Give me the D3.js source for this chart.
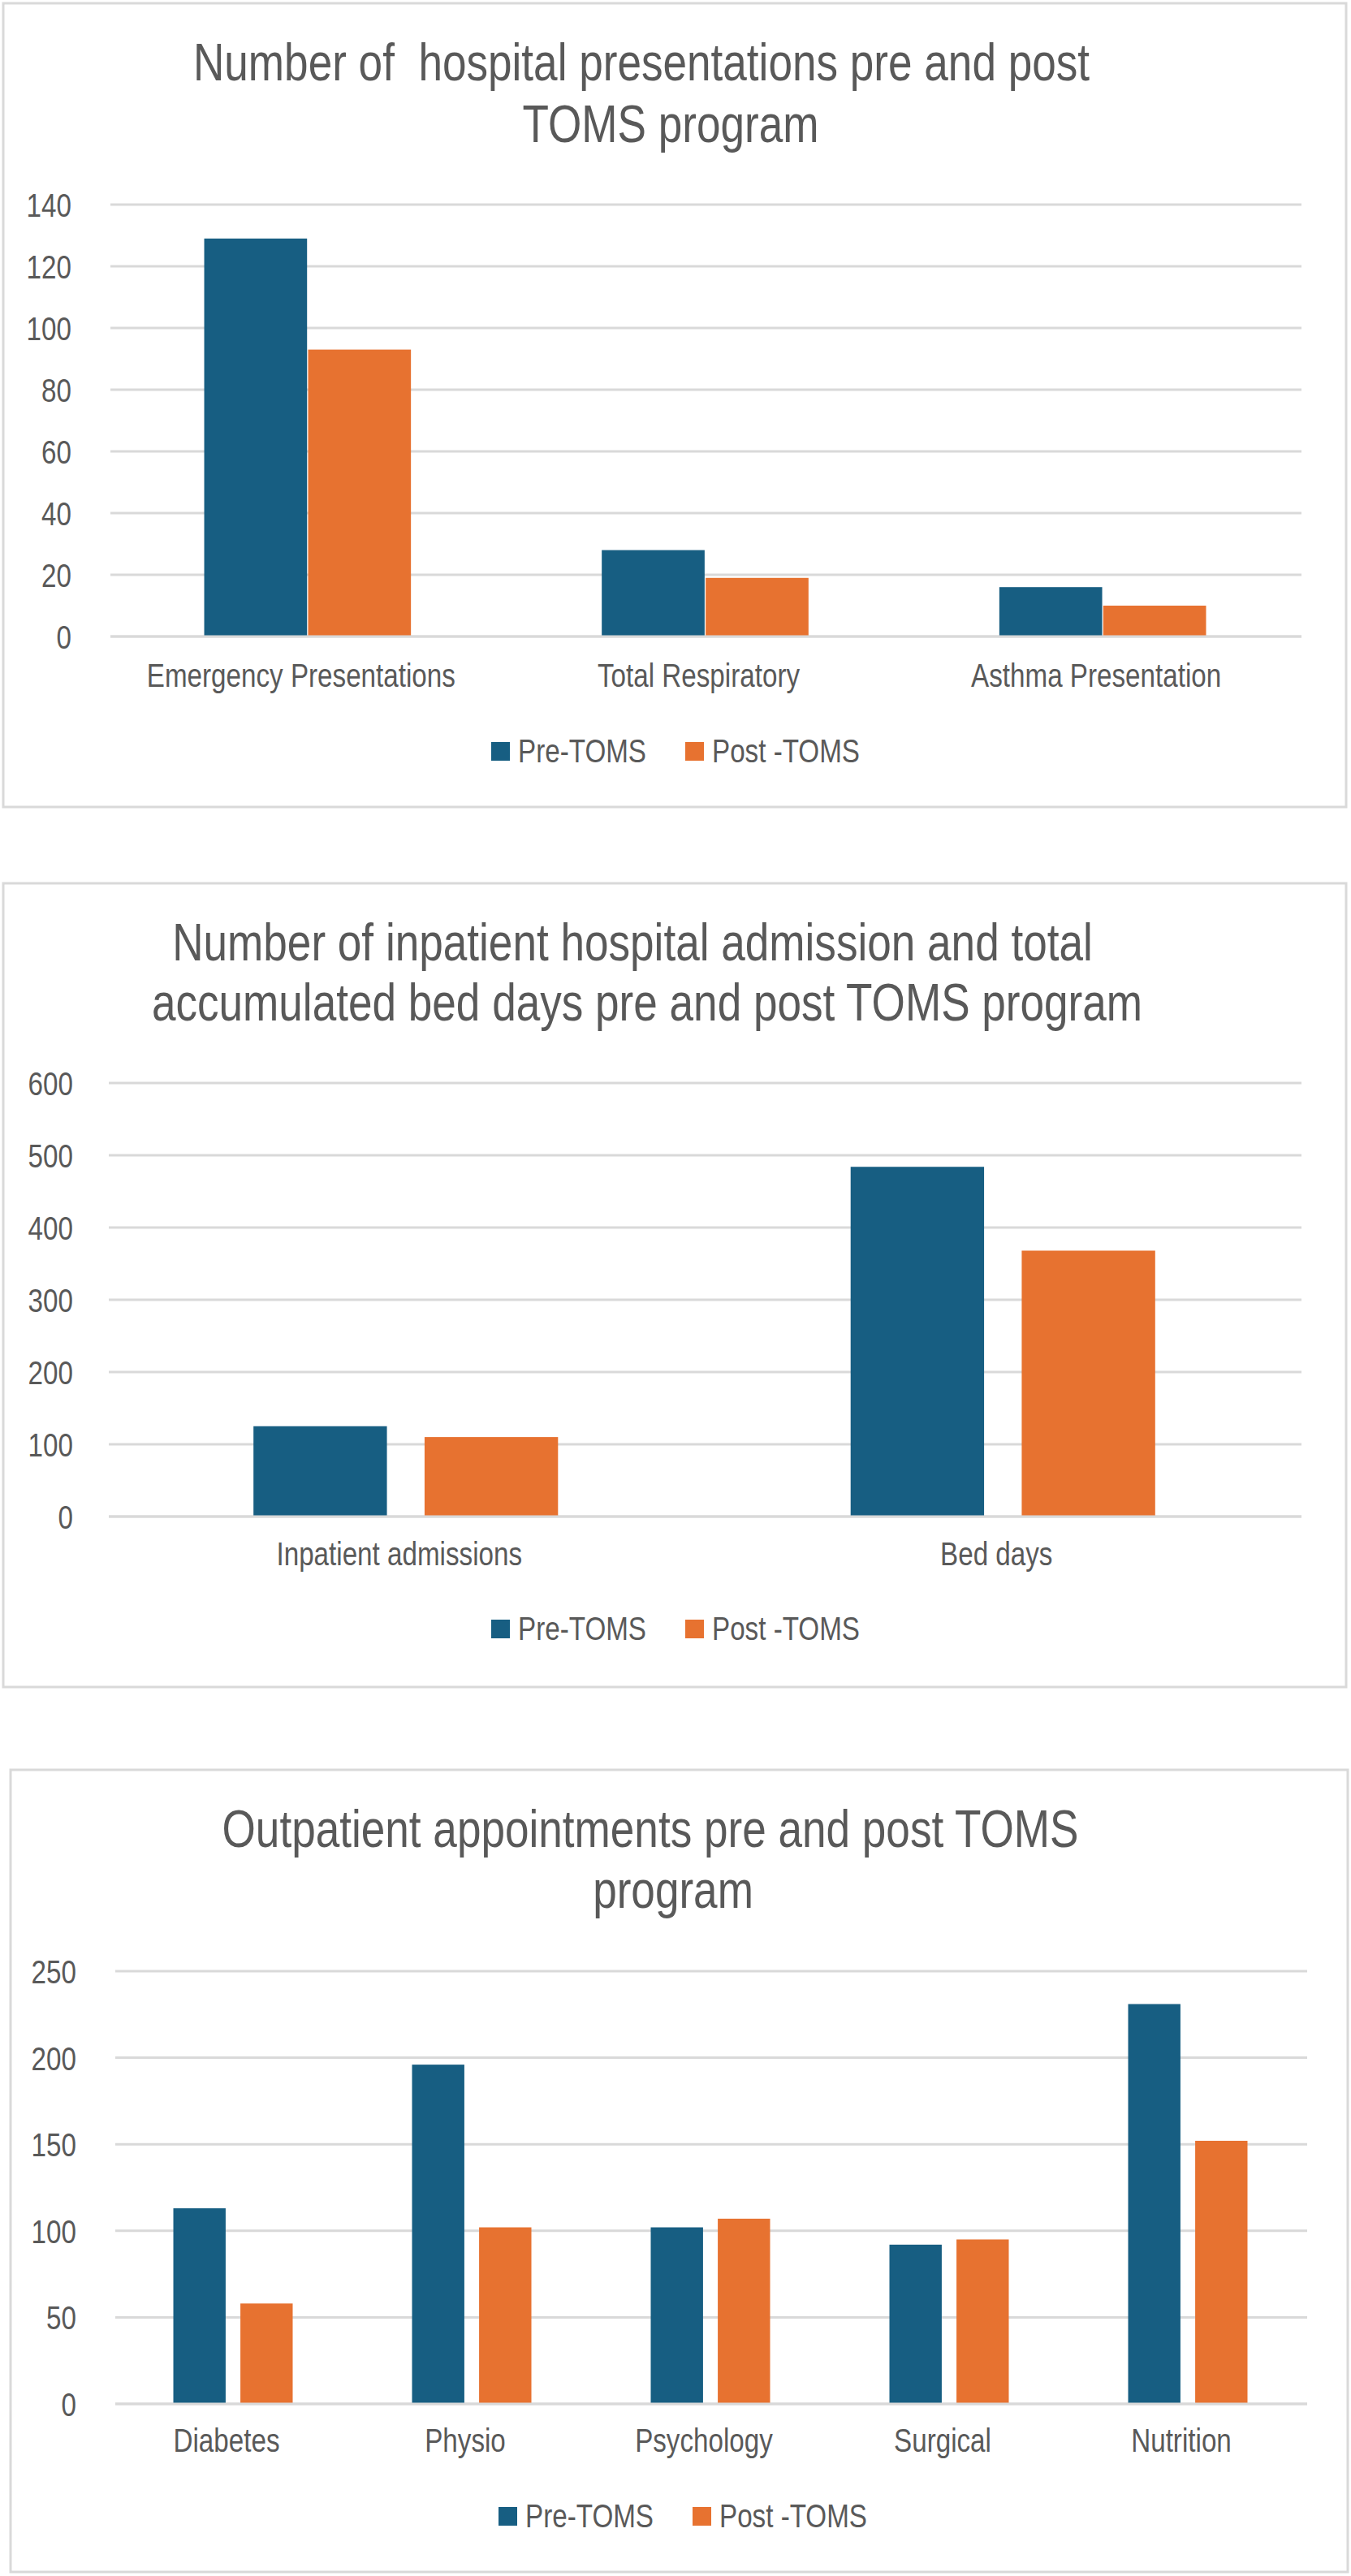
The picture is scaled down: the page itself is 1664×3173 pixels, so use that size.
<!DOCTYPE html>
<html>
<head>
<meta charset="utf-8">
<script src="https://cdn.jsdelivr.net/npm/d3@7"></script>
<style>
    body { margin: 0; background: #fff; }
    svg { display: block; }
    text { font-family: "Liberation Sans", Arial, sans-serif; fill: #595959; white-space: pre; }
</style>
</head>
<body>
<svg id="chart"></svg>
<script>
const seriesNames = ["Pre-TOMS", "Post -TOMS"];
const seriesColors = ["#175E82", "#E77230"];

// chart 1 - hospital presentations
const presentationCategories = ["Emergency Presentations", "Total Respiratory", "Asthma Presentation"];
const presentationPre = [129, 28, 16];
const presentationPost = [93, 19, 10];
const presentationTicks = [0, 20, 40, 60, 80, 100, 120, 140];
const presentationTitle = ["Number of  hospital presentations pre and post", "TOMS program"];

// chart 2 - inpatient admissions / bed days
const admissionCategories = ["Inpatient admissions", "Bed days"];
const admissionPre = [125, 484];
const admissionPost = [110, 368];
const admissionTicks = [0, 100, 200, 300, 400, 500, 600];
const admissionTitle = ["Number of inpatient hospital admission and total", "accumulated bed days pre and post TOMS program"];

// chart 3 - outpatient appointments
const outpatientCategories = ["Diabetes", "Physio", "Psychology", "Surgical", "Nutrition"];
const outpatientPre = [113, 196, 102, 92, 231];
const outpatientPost = [58, 102, 107, 95, 152];
const outpatientTicks = [0, 50, 100, 150, 200, 250];
const outpatientTitle = ["Outpatient appointments pre and post TOMS", "program"];

const width = 1664, height = 3173;
const SQUEEZE = 0.83;

const svg = d3.select("#chart")
    .attr("width", width)
    .attr("height", height);

svg.append("rect").attr("width", width).attr("height", height).attr("fill", "#fff");

const panels = [
    {
        categories: presentationCategories, pre: presentationPre, post: presentationPost,
        ticks: presentationTicks, title: presentationTitle,
        box: [4, 4, 1654, 990],
        titleX: [790, 826], titleY: [99, 175],
        x0: 134, x1: 1603, yTop: 252, yBottom: 784,
        groupRatio: 0.52, innerPad: 0.01,
        tickRight: 88, catY: 846, legendY: 926, legendX: 605
    },
    {
        categories: admissionCategories, pre: admissionPre, post: admissionPost,
        ticks: admissionTicks, title: admissionTitle,
        box: [4, 1088, 1654, 990],
        titleX: [779, 797], titleY: [1183, 1257],
        x0: 132, x1: 1603, yTop: 1334, yBottom: 1868,
        groupRatio: 0.51, innerPad: 0.22,
        tickRight: 90, catY: 1928, legendY: 2007, legendX: 605
    },
    {
        categories: outpatientCategories, pre: outpatientPre, post: outpatientPost,
        ticks: outpatientTicks, title: outpatientTitle,
        box: [13, 2180, 1647, 988],
        titleX: [801, 829], titleY: [2275, 2350],
        x0: 140, x1: 1610, yTop: 2428, yBottom: 2961,
        groupRatio: 0.5, innerPad: 0.22,
        tickRight: 94, catY: 3020, legendY: 3100, legendX: 614
    }
];

function squeezedText(g, x, y, str, size, anchor) {
    return g.append("text")
        .attr("transform", `translate(${x},${y}) scale(${SQUEEZE},1)`)
        .attr("text-anchor", anchor)
        .attr("font-size", size)
        .text(str);
}

panels.forEach(p => drawPanel(p));

function drawPanel(p) {
    const g = svg.append("g");

    g.append("rect")
        .attr("x", p.box[0]).attr("y", p.box[1])
        .attr("width", p.box[2]).attr("height", p.box[3])
        .attr("fill", "#fff")
        .attr("stroke", "#D9D9D9")
        .attr("stroke-width", 3);

    p.title.forEach((line, i) => {
        squeezedText(g, p.titleX[i], p.titleY[i], line, 64, "middle");
    });

    const max = p.ticks[p.ticks.length - 1];
    const y = d3.scaleLinear().domain([0, max]).range([p.yBottom, p.yTop]);
    const x = d3.scaleBand().domain(p.categories).range([p.x0, p.x1]).padding(0);
    const groupW = x.bandwidth() * p.groupRatio;
    const xInner = d3.scaleBand().domain(seriesNames)
        .range([-groupW / 2, groupW / 2])
        .paddingInner(p.innerPad).paddingOuter(0);

    // gridlines
    g.append("g").selectAll("line")
        .data(p.ticks)
        .enter().append("line")
        .attr("x1", p.x0 + 2).attr("x2", p.x1)
        .attr("y1", d => y(d)).attr("y2", d => y(d))
        .attr("stroke", "#D9D9D9")
        .attr("stroke-width", 3);

    // tick labels
    const yAxis = d3.axisLeft(y).tickValues(p.ticks).tickSize(0).tickPadding(0);
    const ax = g.append("g").attr("transform", `translate(${p.tickRight},0)`).call(yAxis);
    ax.select(".domain").remove();
    ax.selectAll("text")
        .attr("font-size", 40)
        .attr("fill", "#595959")
        .attr("font-family", "Liberation Sans, Arial, sans-serif")
        .attr("dy", "0.36em")
        .attr("transform", `scale(${SQUEEZE},1)`)
        .attr("x", 0);

    // bars
    const rows = p.categories.map((c, i) => ({ cat: c, values: [p.pre[i], p.post[i]] }));
    const groups = g.append("g").selectAll("g")
        .data(rows)
        .enter().append("g")
        .attr("transform", d => `translate(${x(d.cat) + x.bandwidth() / 2},0)`);

    groups.selectAll("rect")
        .data(d => d.values.map((v, i) => ({ name: seriesNames[i], value: v, color: seriesColors[i] })))
        .enter().append("rect")
        .attr("x", d => xInner(d.name))
        .attr("width", xInner.bandwidth())
        .attr("y", d => y(d.value))
        .attr("height", d => y(0) - y(d.value))
        .attr("fill", d => d.color);

    // redraw baseline over the bars
    g.append("line")
        .attr("x1", p.x0 + 2).attr("x2", p.x1)
        .attr("y1", y(0)).attr("y2", y(0))
        .attr("stroke", "#D9D9D9")
        .attr("stroke-width", 3);

    // category labels
    p.categories.forEach(c => {
        squeezedText(g, x(c) + x.bandwidth() / 2 - 8, p.catY, c, 40, "middle");
    });

    // legend
    const lg = g.append("g").attr("transform", `translate(${p.legendX},${p.legendY})`);
    let off = 0;
    seriesNames.forEach((name, i) => {
        lg.append("rect")
            .attr("x", off).attr("y", -12)
            .attr("width", 23).attr("height", 23)
            .attr("fill", seriesColors[i]);
        const t = squeezedText(lg, off + 33, 13, name, 40, "start");
        off += 33 + t.node().getComputedTextLength() * SQUEEZE + 48;
    });
}
</script>
</body>
</html>
